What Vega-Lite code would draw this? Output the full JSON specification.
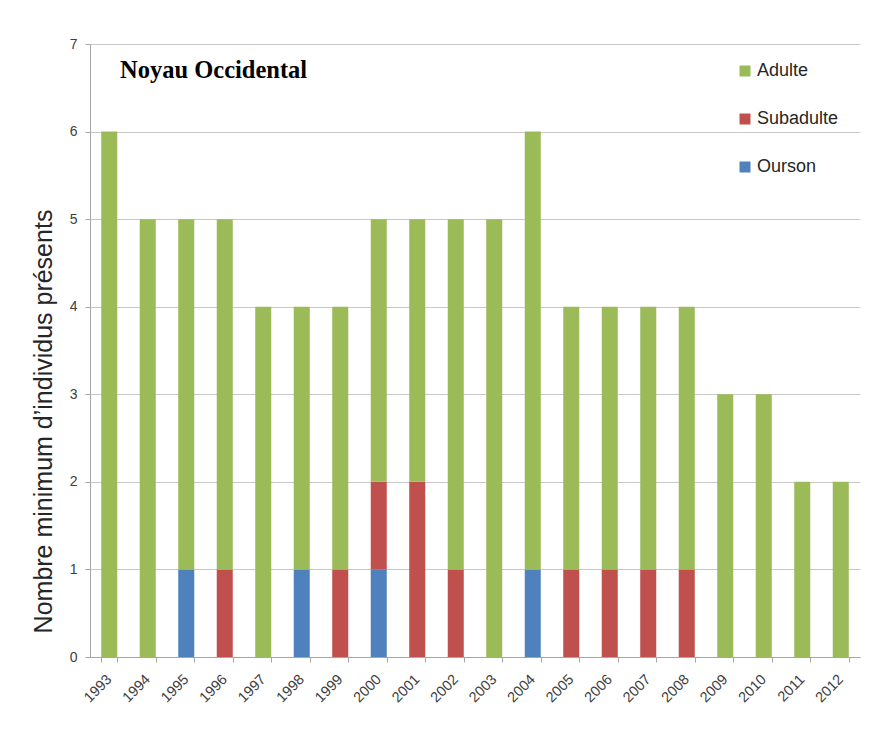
{
  "$schema": "https://vega.github.io/schema/vega-lite/v6.json",
  "width": 770,
  "height": 613,
  "autosize": {"type": "none"},
  "padding": {"left": 90, "top": 44, "right": 33, "bottom": 94},
  "background": "white",
  "title": {
    "text": "Noyau Occidental",
    "anchor": "start",
    "frame": "group",
    "orient": "top",
    "baseline": "alphabetic",
    "offset": 0,
    "dx": 30,
    "dy": 65,
    "font": "Liberation Serif",
    "fontSize": 24.5,
    "fontWeight": "bold",
    "color": "black"
  },
  "data": {
    "values": [
      {"annee": "1993", "classe": "Adulte", "n": 6},
      {"annee": "1994", "classe": "Adulte", "n": 5},
      {"annee": "1995", "classe": "Ourson", "n": 1},
      {"annee": "1995", "classe": "Adulte", "n": 4},
      {"annee": "1996", "classe": "Subadulte", "n": 1},
      {"annee": "1996", "classe": "Adulte", "n": 4},
      {"annee": "1997", "classe": "Adulte", "n": 4},
      {"annee": "1998", "classe": "Ourson", "n": 1},
      {"annee": "1998", "classe": "Adulte", "n": 3},
      {"annee": "1999", "classe": "Subadulte", "n": 1},
      {"annee": "1999", "classe": "Adulte", "n": 3},
      {"annee": "2000", "classe": "Ourson", "n": 1},
      {"annee": "2000", "classe": "Subadulte", "n": 1},
      {"annee": "2000", "classe": "Adulte", "n": 3},
      {"annee": "2001", "classe": "Subadulte", "n": 2},
      {"annee": "2001", "classe": "Adulte", "n": 3},
      {"annee": "2002", "classe": "Subadulte", "n": 1},
      {"annee": "2002", "classe": "Adulte", "n": 4},
      {"annee": "2003", "classe": "Adulte", "n": 5},
      {"annee": "2004", "classe": "Ourson", "n": 1},
      {"annee": "2004", "classe": "Adulte", "n": 5},
      {"annee": "2005", "classe": "Subadulte", "n": 1},
      {"annee": "2005", "classe": "Adulte", "n": 3},
      {"annee": "2006", "classe": "Subadulte", "n": 1},
      {"annee": "2006", "classe": "Adulte", "n": 3},
      {"annee": "2007", "classe": "Subadulte", "n": 1},
      {"annee": "2007", "classe": "Adulte", "n": 3},
      {"annee": "2008", "classe": "Subadulte", "n": 1},
      {"annee": "2008", "classe": "Adulte", "n": 3},
      {"annee": "2009", "classe": "Adulte", "n": 3},
      {"annee": "2010", "classe": "Adulte", "n": 3},
      {"annee": "2011", "classe": "Adulte", "n": 2},
      {"annee": "2012", "classe": "Adulte", "n": 2}
    ]
  },
  "transform": [
    {"calculate": "indexof(['Ourson','Subadulte','Adulte'], datum.classe)", "as": "ordre"}
  ],
  "mark": {"type": "bar"},
  "encoding": {
    "x": {
      "field": "annee",
      "type": "ordinal",
      "scale": {"paddingInner": 0.584, "paddingOuter": 0.292},
      "axis": {
        "title": null,
        "labelAngle": -45,
        "labelAlign": "right",
        "labelBaseline": "middle",
        "labelFont": "Liberation Sans",
        "labelFontSize": 14.5,
        "labelColor": "#404040",
        "labelPadding": 15,
        "tickBand": "extent",
        "tickSize": 5,
        "tickColor": "#a6a6a6",
        "domainColor": "#a6a6a6",
        "grid": false
      }
    },
    "y": {
      "field": "n",
      "type": "quantitative",
      "stack": "zero",
      "scale": {"domain": [0, 7], "nice": false},
      "axis": {
        "values": [0, 1, 2, 3, 4, 5, 6, 7],
        "title": "Nombre minimum d’individus présents",
        "titleFont": "Liberation Sans",
        "titleFontSize": 25,
        "titleFontWeight": "normal",
        "titleColor": "#262626",
        "titleAngle": -90,
        "titleAlign": "center",
        "titleBaseline": "alphabetic",
        "titleX": -39,
        "titleY": 377,
        "labelFont": "Liberation Sans",
        "labelFontSize": 14,
        "labelColor": "#404040",
        "labelPadding": 8,
        "tickSize": 5,
        "tickColor": "#a6a6a6",
        "domainColor": "#a6a6a6",
        "gridColor": "#c8c8c8",
        "gridWidth": 1
      }
    },
    "color": {
      "field": "classe",
      "type": "nominal",
      "scale": {
        "domain": ["Adulte", "Subadulte", "Ourson"],
        "range": ["#9BBB59", "#C0504D", "#4F81BD"]
      },
      "legend": {
        "title": null,
        "orient": "none",
        "legendX": 646,
        "legendY": 18,
        "symbolType": "square",
        "symbolSize": 121,
        "symbolStrokeWidth": 0,
        "labelFont": "Liberation Sans",
        "labelFontSize": 18,
        "labelColor": "#262626",
        "labelOffset": 3,
        "rowPadding": 30
      }
    },
    "order": {"field": "ordre", "type": "quantitative", "sort": "ascending"}
  },
  "config": {
    "view": {"stroke": null},
    "axis": {"domainWidth": 1}
  }
}
